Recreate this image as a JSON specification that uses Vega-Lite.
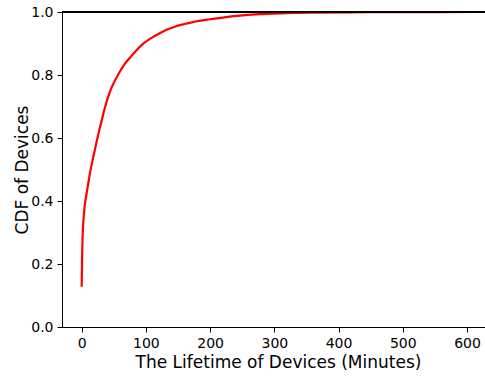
{
  "$schema": "https://vega.github.io/schema/vega-lite/v6.json",
  "width": 423,
  "height": 315,
  "autosize": {"type": "none"},
  "padding": {"left": 62, "top": 12, "right": 0, "bottom": 49},
  "background": "white",
  "config": {
    "view": {"stroke": null},
    "font": "DejaVu Sans",
    "axis": {
      "labelFont": "DejaVu Sans",
      "titleFont": "DejaVu Sans",
      "labelFontSize": 14,
      "titleFontSize": 17,
      "titleFontWeight": "normal",
      "labelColor": "black",
      "titleColor": "black",
      "domainColor": "black",
      "tickColor": "black",
      "domainWidth": 1,
      "tickWidth": 1,
      "tickSize": 5,
      "grid": false,
      "labelPadding": 4
    }
  },
  "data": {
    "values": [
      {"t": 0, "cdf": 0.128},
      {"t": 0.3, "cdf": 0.17},
      {"t": 0.6, "cdf": 0.213},
      {"t": 1.0, "cdf": 0.255},
      {"t": 1.6, "cdf": 0.297},
      {"t": 2.8, "cdf": 0.34},
      {"t": 4.2, "cdf": 0.375},
      {"t": 6.5, "cdf": 0.41},
      {"t": 9.4, "cdf": 0.445},
      {"t": 13, "cdf": 0.49},
      {"t": 17, "cdf": 0.53},
      {"t": 21, "cdf": 0.567},
      {"t": 25, "cdf": 0.604},
      {"t": 28, "cdf": 0.63},
      {"t": 31.7, "cdf": 0.66},
      {"t": 36, "cdf": 0.695},
      {"t": 43, "cdf": 0.742},
      {"t": 50, "cdf": 0.775},
      {"t": 58.7, "cdf": 0.808},
      {"t": 66, "cdf": 0.832},
      {"t": 74.3, "cdf": 0.853},
      {"t": 85, "cdf": 0.878},
      {"t": 95, "cdf": 0.898},
      {"t": 108, "cdf": 0.917},
      {"t": 121, "cdf": 0.932},
      {"t": 134, "cdf": 0.945},
      {"t": 147, "cdf": 0.955},
      {"t": 160, "cdf": 0.962},
      {"t": 173, "cdf": 0.968},
      {"t": 200, "cdf": 0.977},
      {"t": 225, "cdf": 0.984},
      {"t": 250, "cdf": 0.989},
      {"t": 277, "cdf": 0.993},
      {"t": 300, "cdf": 0.995},
      {"t": 330, "cdf": 0.997},
      {"t": 370, "cdf": 0.998},
      {"t": 420, "cdf": 0.999},
      {"t": 480, "cdf": 0.9995},
      {"t": 550, "cdf": 0.9998},
      {"t": 613, "cdf": 1.0}
    ]
  },
  "layer": [
    {
      "mark": {"type": "line", "color": "red", "strokeWidth": 2.2, "clip": true, "interpolate": "monotone"},
      "encoding": {
        "x": {
          "field": "t",
          "type": "quantitative",
          "scale": {"domain": [-30.65, 628], "nice": false, "zero": false},
          "axis": {
            "values": [0, 100, 200, 300, 400, 500, 600],
            "format": "d",
            "title": "The Lifetime of Devices (Minutes)",
            "titleX": 216,
            "titleY": 40,
            "titleBaseline": "alphabetic"
          }
        },
        "y": {
          "field": "cdf",
          "type": "quantitative",
          "scale": {"domain": [0, 1], "nice": false},
          "axis": {
            "values": [0, 0.2, 0.4, 0.6, 0.8, 1.0],
            "format": ".1f",
            "title": "CDF of Devices",
            "titleX": -35,
            "titleBaseline": "alphabetic"
          }
        }
      }
    },
    {
      "mark": {"type": "rule", "color": "black", "strokeWidth": 1},
      "encoding": {
        "y": {"datum": 1}
      }
    }
  ]
}
